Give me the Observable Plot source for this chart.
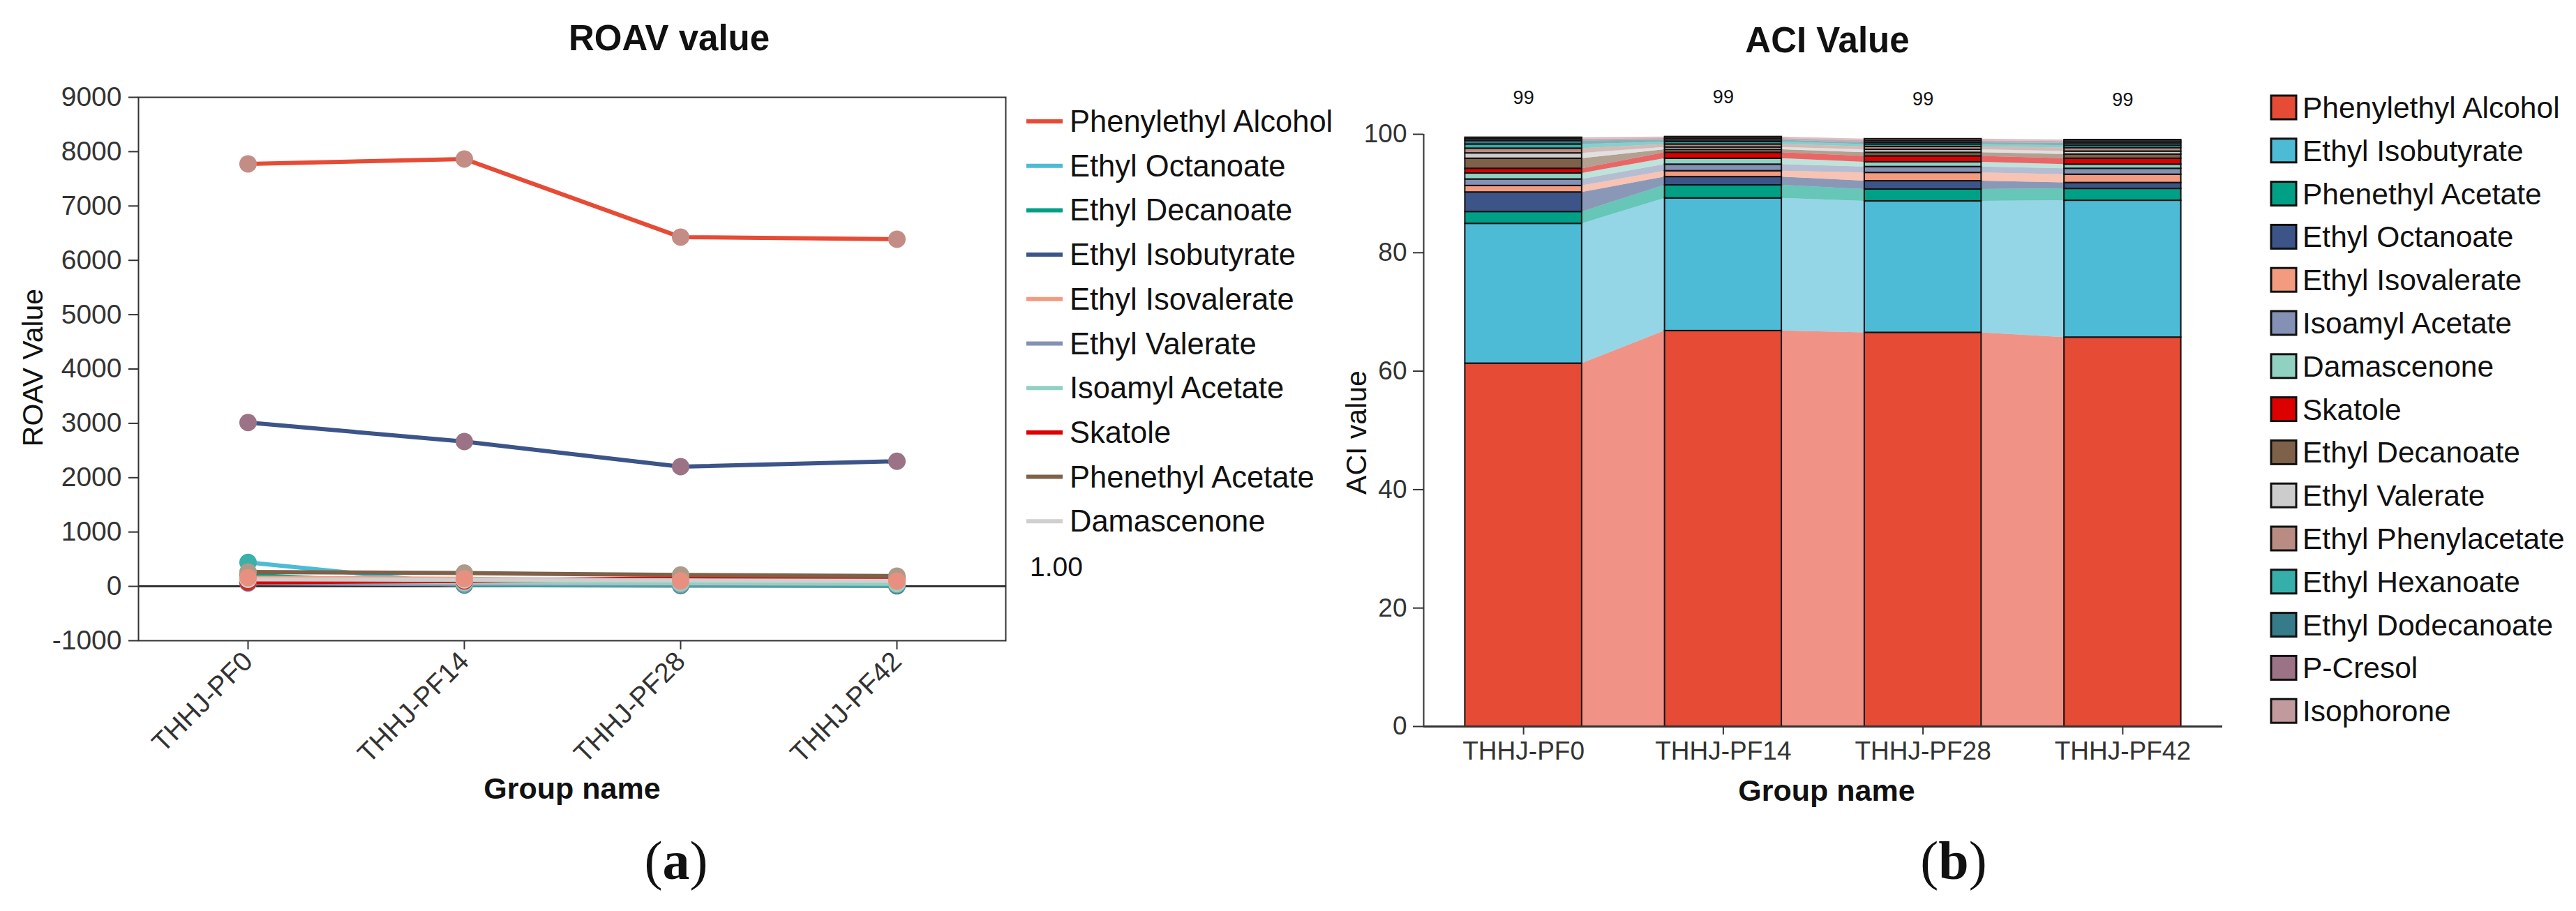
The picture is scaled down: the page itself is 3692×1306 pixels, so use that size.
<!DOCTYPE html>
<html><head><meta charset="utf-8">
<script src="https://cdn.jsdelivr.net/npm/d3@7"></script>
<script src="https://cdn.jsdelivr.net/npm/@observablehq/plot@0.6"></script>
<style>
html,body{margin:0;padding:0;background:#fff;}
#root{position:relative;width:3692px;height:1306px;overflow:hidden;background:#fff;font-family:"Liberation Sans",Arial,sans-serif;}
#left,#right{position:absolute;top:0;}
#left{left:0px}
#right{left:1846px}
#overlay{position:absolute;left:0;top:0;pointer-events:none;}
</style></head>
<body><div id="root"><div id="left"></div><div id="right"></div></div>
<script>
// ---------- Panel (a): ROAV value ----------
const roavGroups = ["THHJ-PF0", "THHJ-PF14", "THHJ-PF28", "THHJ-PF42"];
const roavTicks = [-1000, 0, 1000, 2000, 3000, 4000, 5000, 6000, 7000, 8000, 9000];
const roavSeries = ["Phenylethyl Alcohol", "Ethyl Octanoate", "Ethyl Decanoate", "Ethyl Isobutyrate",
  "Ethyl Isovalerate", "Ethyl Valerate", "Isoamyl Acetate", "Skatole", "Phenethyl Acetate", "Damascenone"];
const roavColors = ["#E64B35", "#4DBBD5", "#00A087", "#3C5488", "#F39B7F", "#8491B4", "#91D1C2", "#DC0000", "#7E6148", "#CFCFCF"];
const roavPointColors = ["#C38D85", "#3AB0AA", "#2F8E86", "#9C7386", "#E8907F", "#8491B4", "#91D1C2", "#C9302A", "#AE9A88", "#CFCFCF"];
const roavPhenylethylAlcohol = [7775, 7865, 6427, 6389];
const roavEthylOctanoate     = [440, 40, 30, 20];
const roavEthylDecanoate     = [210, 25, 15, 10];
const roavEthylIsobutyrate   = [3015, 2665, 2203, 2302];
const roavEthylIsovalerate   = [160, 140, 100, 95];
const roavEthylValerate      = [60, 40, 30, 30];
const roavIsoamylAcetate     = [90, 70, 60, 50];
const roavSkatole            = [75, 100, 150, 145];
const roavPhenethylAcetate   = [265, 244, 210, 189];
const roavDamascenone        = [130, 120, 110, 100];
const roavValues = [roavPhenylethylAlcohol, roavEthylOctanoate, roavEthylDecanoate, roavEthylIsobutyrate,
  roavEthylIsovalerate, roavEthylValerate, roavIsoamylAcetate, roavSkatole, roavPhenethylAcetate, roavDamascenone];
const roavExtraLegendText = "1.00";

// ---------- Panel (b): ACI Value ----------
const aciGroups = ["THHJ-PF0", "THHJ-PF14", "THHJ-PF28", "THHJ-PF42"];
const aciTicks = [0, 20, 40, 60, 80, 100];
const aciCompounds = ["Phenylethyl Alcohol", "Ethyl Isobutyrate", "Phenethyl Acetate", "Ethyl Octanoate",
  "Ethyl Isovalerate", "Isoamyl Acetate", "Damascenone", "Skatole", "Ethyl Decanoate", "Ethyl Valerate",
  "Ethyl Phenylacetate", "Ethyl Hexanoate", "Ethyl Dodecanoate", "P-Cresol", "Isophorone"];
const aciColors = ["#E64B35", "#4DBBD5", "#00A087", "#3C5488", "#F39B7F", "#8491B4", "#91D1C2", "#DC0000",
  "#7E6148", "#CCCCCC", "#BA8B82", "#36AFAB", "#357B89", "#9C7386", "#C09A9C"];
const aciPF0  = [61.3, 23.6, 2.0, 3.3, 1.1, 1.1, 1.0, 0.8, 1.7, 0.9, 0.8, 0.7, 0.6, 0.3, 0.25];
const aciPF14 = [66.8, 22.4, 2.2, 1.4, 1.0, 1.1, 1.0, 1.0, 0.5, 0.4, 0.5, 0.4, 0.3, 0.3, 0.27];
const aciPF28 = [66.5, 22.2, 2.0, 1.4, 1.4, 1.0, 0.8, 1.0, 0.6, 0.5, 0.5, 0.4, 0.3, 0.3, 0.3];
const aciPF42 = [65.7, 23.1, 2.0, 1.0, 1.4, 1.0, 0.7, 1.0, 0.7, 0.5, 0.6, 0.4, 0.4, 0.3, 0.26];
const aciValues = [aciPF0, aciPF14, aciPF28, aciPF42];

const FONT = '"Liberation Sans", Arial, sans-serif';
const INK = "#333";

// ---------- Build panel (a) ----------
const roavData = roavSeries.flatMap((s, k) => roavValues[k].map((v, i) => ({series: s, k, group: roavGroups[i], value: v})));
const dotOrder = [0, 3, 1, 2, 5, 6, 7, 9, 8, 4];
const leftPlot = Plot.plot({
  width: 1460, height: 1120,
  marginLeft: 198, marginRight: 19, marginTop: 139, marginBottom: 202,
  style: {fontFamily: FONT, fontSize: "39px", color: INK, background: "transparent", overflow: "visible"},
  x: {type: "point", domain: roavGroups, padding: 0.5},
  y: {domain: [-1000, 9000]},
  marks: [
    Plot.ruleY([0], {stroke: INK, strokeWidth: 3}),
    ...roavSeries.map((s, k) => Plot.line(roavData.filter(d => d.k === k), {x: "group", y: "value", stroke: roavColors[k], strokeWidth: 6})),
    ...dotOrder.map(k => Plot.dot(roavData.filter(d => d.k === k), {x: "group", y: "value", r: 12.5, fill: roavPointColors[k], stroke: "none"})),
    Plot.frame({stroke: INK, strokeWidth: 2}),
    Plot.axisY({ticks: roavTicks, tickSize: 14, tickPadding: 10, tickFormat: d => String(d), label: null, strokeWidth: 2}),
    Plot.axisX({tickSize: 13, tickPadding: 10, tickRotate: -45, label: null, strokeWidth: 2})
  ]
});
document.getElementById("left").append(leftPlot);

// ---------- Build panel (b) ----------
const halfBar = 0.2925;
const aciRects = [];
const aciTotals = [];
aciValues.forEach((vals, g) => {
  let acc = 0;
  vals.forEach((v, c) => {
    aciRects.push({g, name: aciCompounds[c], y1: acc, y2: acc + v});
    acc += v;
  });
  aciTotals.push({g, total: acc});
});
const aciLinks = [];
for (let g = 0; g < aciGroups.length - 1; g++) {
  aciCompounds.forEach((name, c) => {
    const a = aciRects[g * aciCompounds.length + c];
    const b = aciRects[(g + 1) * aciCompounds.length + c];
    const key = name + "|" + g;
    aciLinks.push({key, name, x: g + halfBar, y1: a.y1, y2: a.y2});
    aciLinks.push({key, name, x: g + 1 - halfBar, y1: b.y1, y2: b.y2});
  });
}
const rightPlot = Plot.plot({
  width: 1400, height: 1120,
  marginLeft: 194, marginRight: 61, marginTop: 192, marginBottom: 79,
  style: {fontFamily: FONT, fontSize: "37px", color: INK, background: "transparent", overflow: "visible"},
  x: {type: "linear", domain: [-0.5, aciGroups.length - 0.5]},
  y: {domain: [0, 100]},
  color: {type: "ordinal", domain: aciCompounds, range: aciColors},
  marks: [
    Plot.area(aciLinks, {x1: "x", y1: "y1", y2: "y2", z: "key", fill: "name", fillOpacity: 0.6}),
    Plot.rect(aciRects, {x1: d => d.g - halfBar, x2: d => d.g + halfBar, y1: "y1", y2: "y2", fill: "name", stroke: "#111", strokeWidth: 2}),
    Plot.text(aciTotals, {x: "g", y: "total", text: d => String(Math.floor(d.total)), dy: -57, fontSize: 27, fill: "#111"}),
    Plot.ruleX([-0.5], {y1: 0, y2: 100, stroke: INK, strokeWidth: 2}),
    Plot.ruleY([0], {stroke: INK, strokeWidth: 3}),
    Plot.axisY({ticks: aciTicks, tickSize: 15, tickPadding: 9, label: null, strokeWidth: 2}),
    Plot.axisX({ticks: aciGroups.map((_, i) => i), tickFormat: i => aciGroups[i], tickSize: 12, tickPadding: 9, label: null, strokeWidth: 2})
  ]
});
document.getElementById("right").append(rightPlot);

// ---------- Overlay: titles, axis labels, legends, captions ----------
const svg = d3.create("svg").attr("id", "overlay").attr("width", 3692).attr("height", 1306)
  .attr("font-family", FONT).attr("fill", "#111");
function txt(str, x, y, opt = {}) {
  const t = svg.append("text").attr("x", x).attr("y", y)
    .attr("font-size", opt.size || 40)
    .attr("font-weight", opt.weight || "normal")
    .attr("text-anchor", opt.anchor || "middle")
    .text(str);
  if (opt.rotate) t.attr("transform", `rotate(${opt.rotate},${x},${y})`);
  if (opt.family) t.attr("font-family", opt.family);
  return t;
}
// titles
txt("ROAV value", 959, 72, {size: 51, weight: "bold"});
txt("ACI Value", 2619, 75, {size: 51, weight: "bold"});
// axis titles
txt("ROAV Value", 61, 527, {size: 41, rotate: -90});
txt("ACI value", 1958, 620, {size: 41, rotate: -90});
txt("Group name", 820, 1145, {size: 43, weight: "bold"});
txt("Group name", 2618, 1148, {size: 43, weight: "bold"});
// left legend
roavSeries.forEach((s, k) => {
  const cy = 174 + k * 63.7;
  svg.append("line").attr("x1", 1471).attr("x2", 1523).attr("y1", cy).attr("y2", cy)
    .attr("stroke", roavColors[k]).attr("stroke-width", 6);
  txt(s, 1533, cy + 15, {size: 43.5, anchor: "start"});
});
txt(roavExtraLegendText, 1476, 826, {size: 39, anchor: "start"});
// right legend
aciCompounds.forEach((s, k) => {
  const cy = 154 + k * 61.8;
  svg.append("rect").attr("x", 3255).attr("y", cy - 17).attr("width", 36).attr("height", 34)
    .attr("fill", aciColors[k]).attr("stroke", "#111").attr("stroke-width", 3);
  txt(s, 3300, cy + 15, {size: 42.5, anchor: "start"});
});
// captions
function caption(letter, x) {
  const t = svg.append("text").attr("x", x).attr("y", 1260).attr("text-anchor", "middle")
    .attr("font-family", '"Liberation Serif", "DejaVu Serif", serif').attr("font-size", 78);
  t.append("tspan").text("(");
  t.append("tspan").attr("font-weight", "bold").text(letter);
  t.append("tspan").text(")");
}
caption("a", 969);
caption("b", 2800);
document.getElementById("root").append(svg.node());
</script>
</body></html>
